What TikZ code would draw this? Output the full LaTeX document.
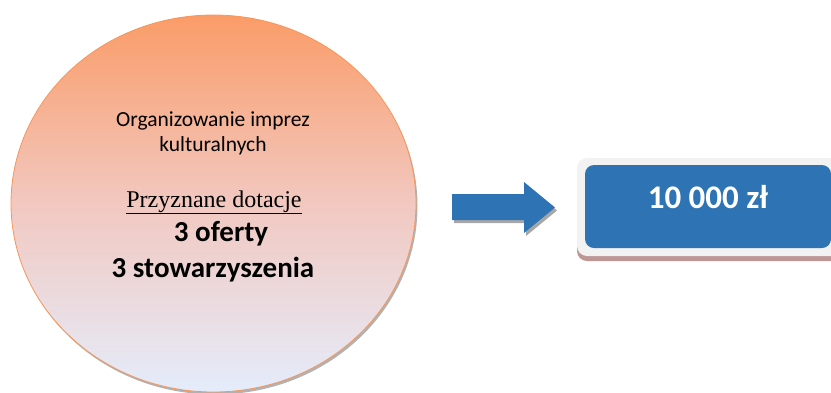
\documentclass[tikz,border=0pt]{standalone}
\usepackage{fontspec}
\setmainfont{Carlito}
\newfontfamily\serifx{Liberation Serif}
\usetikzlibrary{shapes.geometric}
\definecolor{orangetop}{RGB}{250,156,104}
\definecolor{pinkmid}{RGB}{242,200,192}
\definecolor{bluebot}{RGB}{228,236,251}
\definecolor{orangeline}{RGB}{247,150,90}
\definecolor{arrowblue}{RGB}{46,116,181}
\definecolor{boxgray}{RGB}{242,242,242}
\definecolor{boxshadow}{RGB}{190,150,150}
\tikzset{
  txt/.style={anchor=base, inner sep=0pt, text=black},
  bubble/.style={ellipse, minimum width=405pt, minimum height=377pt, inner sep=0pt,
     top color=orangetop, bottom color=bluebot, middle color=pinkmid,
     draw=orangeline, line width=0.8pt},
}
\begin{document}
\begin{tikzpicture}[x=1pt,y=1pt]
\useasboundingbox (0,0) rectangle (831,-392);
% circle shadow
\fill[gray!60] (215,-206) ellipse [x radius=202.5, y radius=188.5];
\node[bubble] (circ) at (213.5,-203.5) {};
% texts
\node[txt, font=\fontsize{21.5}{25}\selectfont] (t1) at (213,-126) {Organizowanie imprez};
\node[txt, font=\fontsize{21.5}{25}\selectfont] (t2) at (213,-151) {kulturalnych};
\node[txt, font=\serifx\fontsize{24}{28}\selectfont] (t3) at (214,-207) {\underline{Przyznane dotacje}};
\node[txt, font=\bfseries\fontsize{29}{33}\selectfont] (t4) at (221,-241) {3 oferty};
\node[txt, font=\bfseries\fontsize{29}{33}\selectfont] (t5) at (213,-277) {3 stowarzyszenia};
% block arrow
\fill[gray!70, shift={(2,-3)}] (452,-194) -- (524,-194) -- (524,-182) -- (555,-207.5) -- (524,-233) -- (524,-220) -- (452,-220) -- cycle;
\fill[arrowblue] (452,-194) -- (524,-194) -- (524,-182) -- (555,-207.5) -- (524,-233) -- (524,-220) -- (452,-220) -- cycle;
% box
\fill[boxshadow, rounded corners=10pt] (577,-162) rectangle (841,-261);
\fill[boxgray, rounded corners=10pt] (577,-158) rectangle (841,-256);
\node[rectangle, rounded corners=9pt, fill=arrowblue, minimum width=246pt, minimum height=83pt, inner sep=0pt] (box) at (708,-206.5) {};
\node[txt, text=white, font=\bfseries\fontsize{33}{38}\selectfont] (amt) at (708,-208) {10 000 zł};
\end{tikzpicture}
\end{document}
